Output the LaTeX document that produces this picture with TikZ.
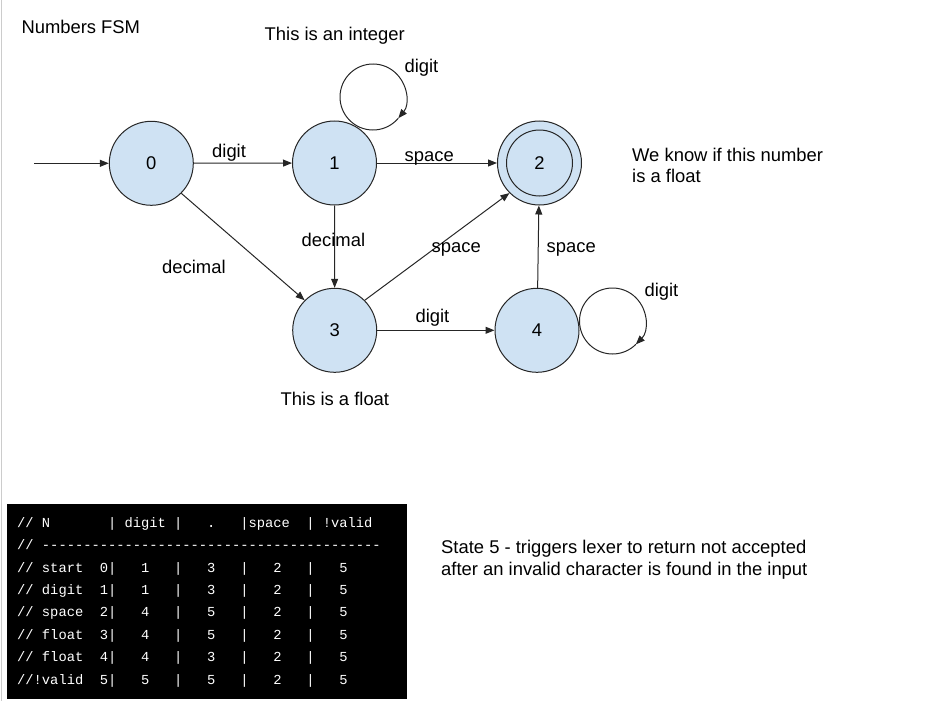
\documentclass[tikz,border=0pt]{standalone}
\usepackage{fontspec}
\setmainfont{Liberation Sans}
\setmonofont{Liberation Mono}
\usepackage{xcolor}
\usetikzlibrary{arrows.meta}
\definecolor{stateblue}{RGB}{207,226,243}

\begin{document}
\begin{tikzpicture}[x=1pt, y=1pt,
    state/.style={circle, draw=black!85, fill=stateblue, line width=1pt, minimum size=84pt, inner sep=0pt, font=\fontsize{18.4}{21}\selectfont},
    trans/.style={draw=black!85, line width=1pt, -{Triangle[length=9pt,width=7pt]}},
    lbl/.style={anchor=base west, inner sep=0pt, font=\fontsize{18.4}{21.7}\selectfont},
    tblrow/.style={anchor=base west, inner sep=0pt, text=white, font=\ttfamily\fontsize{13.77}{16}\selectfont}]

\useasboundingbox (0,0) rectangle (934,-701);
\draw[black!20] (1.5,0) -- (1.5,-701);

% states
\node[state] (s0) at (151.3,-163.3) {0};
\node[state] (s1) at (334.5,-163) {1};
\node[state] (s2) at (539.5,-163) {2};
\node[state] (s3) at (334.7,-330.3) {3};
\node[state] (s4) at (537,-330.3) {4};
\draw[draw=black!85, line width=1pt] (s2) circle (33);

\coordinate (in) at (34,-163.3);
\coordinate (lp1) at (373,-97);
\coordinate (lp4) at (612.5,-321);

% transitions
\draw[trans] (in) -- (s0);
\draw[trans] (s0) -- (s1);
\draw[trans] (s1) -- (s2);
\draw[trans] (s0.-45) -- (s3.135);
\draw[trans] (s1) -- (s3);
\draw[trans] (s3.45) -- (s2.-135);
\draw[trans] (s3) -- (s4);
\draw[trans] (s4) -- (s2);
\draw[trans] (lp1) ++(-40:33) arc[start angle=-40, end angle=-400, radius=33];
\draw[trans] (lp4) ++(-45:33) arc[start angle=-45, end angle=-405, radius=33];

% labels
\node[lbl] (title) at (21.3,-34) {Numbers FSM};
\node[lbl] (intnote) at (264.5,-41) {This is an integer};
\node[lbl] (l11) at (404.4,-73) {digit};
\node[lbl] (l01) at (212,-157) {digit};
\node[lbl] (l12) at (404.5,-161) {space};
\node[lbl, align=left] (floatnote) at (632,-182.7) {We know if this number\\is a float};
\node[lbl] (l13) at (301.5,-246.7) {decimal};
\node[lbl] (l03) at (162,-273.3) {decimal};
\node[lbl] (l32) at (431.5,-252.7) {space};
\node[lbl] (l42) at (546.5,-252.7) {space};
\node[lbl] (l34) at (415.4,-322.7) {digit};
\node[lbl] (l44) at (644.4,-296.7) {digit};
\node[lbl] (floatlbl) at (280.5,-405.7) {This is a float};
\node[lbl, align=left] (s5note) at (441,-575.5) {State 5 - triggers lexer to return not accepted\\after an invalid character is found in the input};

% table
\fill[black] (7.3,-504.3) rectangle (406.7,-699);
\node[tblrow] (r0) at (17,-527) {//~N~~~~~~~|~digit~|~~~.~~~|space~~|~!valid};
\node[tblrow] (r1) at (17,-549.5) {//~-----------------------------------------};
\node[tblrow] (r2) at (17,-572) {//~start~~0|~~~1~~~|~~~3~~~|~~~2~~~|~~~5};
\node[tblrow] (r3) at (17,-594.4) {//~digit~~1|~~~1~~~|~~~3~~~|~~~2~~~|~~~5};
\node[tblrow] (r4) at (17,-616.8) {//~space~~2|~~~4~~~|~~~5~~~|~~~2~~~|~~~5};
\node[tblrow] (r5) at (17,-639.2) {//~float~~3|~~~4~~~|~~~5~~~|~~~2~~~|~~~5};
\node[tblrow] (r6) at (17,-661.6) {//~float~~4|~~~4~~~|~~~3~~~|~~~2~~~|~~~5};
\node[tblrow] (r7) at (17,-684) {//!valid~~5|~~~5~~~|~~~5~~~|~~~2~~~|~~~5};
\end{tikzpicture}
\end{document}
